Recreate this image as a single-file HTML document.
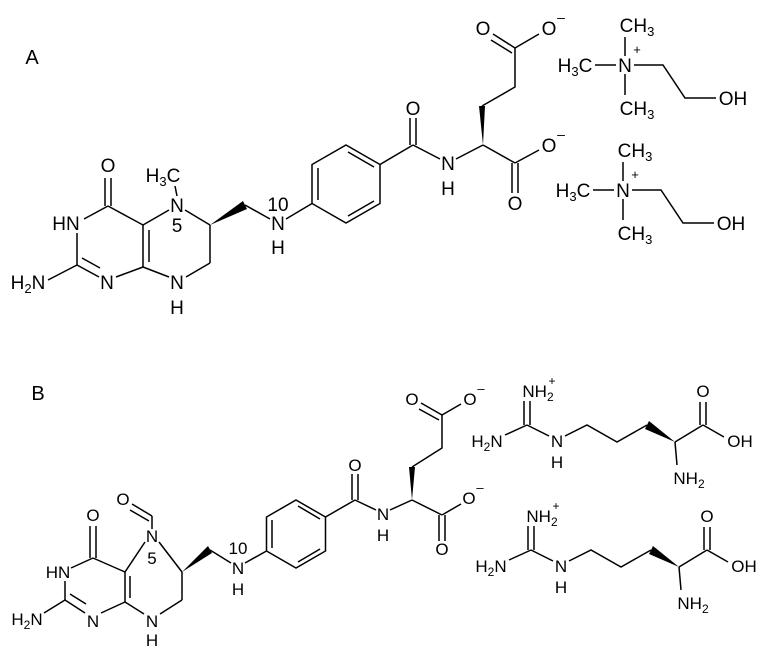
<!DOCTYPE html>
<html><head><meta charset="utf-8"><style>
html,body{margin:0;padding:0;background:#fff;}
svg{display:block;}
text{font-family:"Liberation Sans",Arial,sans-serif;fill:#000;}
.a{font-size:19px;} .b{font-size:17px;}
line,polyline{stroke:#000;stroke-width:1.5;fill:none;}
</style></head><body>
<svg width="770" height="651" viewBox="0 0 770 651" xmlns="http://www.w3.org/2000/svg">
<text x="32" y="64" font-size="20" text-anchor="middle">A</text>
<text x="38" y="400" font-size="20" text-anchor="middle">B</text>

<!-- ===== A: folate ===== -->
<g class="a" text-anchor="middle">
<text x="108" y="172">O</text>
<text x="66" y="230">HN</text>
<text x="107" y="289">N</text>
<text x="28" y="289">H<tspan font-size="13" dy="4">2</tspan><tspan dy="-4">N</tspan></text>
<text x="177" y="212">N</text>
<text x="177" y="232">5</text>
<text x="163" y="182">H<tspan font-size="13" dy="4">3</tspan><tspan dy="-4">C</tspan></text>
<text x="177" y="289">N</text>
<text x="177" y="314">H</text>
<text x="278" y="230">N</text>
<text x="278" y="211">10</text>
<text x="278" y="254">H</text>
<text x="413" y="115">O</text>
<text x="448" y="170">N</text>
<text x="448" y="195">H</text>
<text x="483" y="35">O</text>
<text x="549" y="35">O</text>
<text x="561" y="22" font-size="14">–</text>
<text x="515" y="210">O</text>
<text x="549" y="152">O</text>
<text x="561" y="139" font-size="14">–</text>
</g>
<line x1="105" y1="178" x2="105" y2="206"/><line x1="111" y1="178" x2="111" y2="206"/>
<line x1="108" y1="206" x2="84" y2="219"/>
<line x1="77" y1="233" x2="77" y2="265"/>
<line x1="77" y1="265" x2="99" y2="277"/><line x1="82" y1="258" x2="100" y2="268"/>
<line x1="116" y1="277" x2="143" y2="267"/>
<line x1="143" y1="267" x2="143" y2="225"/><line x1="149" y1="262" x2="149" y2="230"/>
<line x1="143" y1="225" x2="108" y2="206"/>
<line x1="77" y1="265" x2="48" y2="280"/>
<line x1="143" y1="225" x2="169" y2="210"/>
<line x1="177" y1="196" x2="175" y2="186"/>
<line x1="185" y1="210" x2="210" y2="225"/>
<line x1="210" y1="225" x2="210" y2="263"/>
<line x1="210" y1="263" x2="186" y2="277"/>
<line x1="169" y1="277" x2="143" y2="267"/>
<polygon points="210,225 243,201 247,209" fill="#000"/>
<line x1="245" y1="205" x2="270" y2="219"/>
<line x1="286" y1="219" x2="312" y2="203.5"/>
<polygon points="346,145 380,164.5 380,203.5 346,223 312,203.5 312,164.5" fill="none" stroke="#000" stroke-width="1.5"/>
<line x1="318" y1="168" x2="318" y2="200"/>
<line x1="348" y1="152" x2="374" y2="167"/>
<line x1="348" y1="216" x2="374" y2="201"/>
<line x1="380" y1="164.5" x2="413" y2="145"/>
<line x1="410" y1="145" x2="410" y2="118"/><line x1="416" y1="145" x2="416" y2="118"/>
<line x1="413" y1="145" x2="440" y2="159"/>
<line x1="456" y1="159" x2="483" y2="145"/>
<polygon points="483,145 479,106 485,106" fill="#000"/>
<polyline points="482,106 515,87 515,48"/>
<line x1="515" y1="48" x2="493" y2="34"/><line x1="512" y1="53" x2="491" y2="40"/>
<line x1="515" y1="48" x2="539" y2="34"/>
<line x1="483" y1="145" x2="515" y2="163"/>
<line x1="512" y1="163" x2="512" y2="193"/><line x1="518" y1="163" x2="518" y2="193"/>
<line x1="515" y1="163" x2="539" y2="150"/>

<!-- cholines -->
<g id="ch">
<text class="a" x="575" y="72" text-anchor="middle">H<tspan font-size="13" dy="4">3</tspan><tspan dy="-4">C</tspan></text>
<text class="a" x="625" y="72" text-anchor="middle">N</text>
<text x="637" y="54" font-size="13" text-anchor="middle">+</text>
<text class="a" x="637" y="32" text-anchor="middle">CH<tspan font-size="13" dy="4">3</tspan></text>
<text class="a" x="637" y="115" text-anchor="middle">CH<tspan font-size="13" dy="4">3</tspan></text>
<text class="a" x="733" y="105" text-anchor="middle">OH</text>
<line x1="595" y1="65" x2="616" y2="65"/>
<line x1="625" y1="56" x2="625" y2="37"/>
<line x1="625" y1="74" x2="625" y2="95"/>
<polyline points="634,65 663,65 685,98 716,98"/>
</g>
<use href="#ch" x="-2" y="125"/>

<!-- ===== B: folinate ===== -->
<g class="b" text-anchor="middle">
<text x="93" y="521">O</text>
<text x="58" y="578">HN</text>
<text x="93" y="627">N</text>
<text x="27" y="625">H<tspan font-size="12" dy="4">2</tspan><tspan dy="-4">N</tspan></text>
<text x="152" y="542">N</text>
<text x="152" y="564">5</text>
<text x="123" y="505">O</text>
<text x="152" y="627">N</text>
<text x="152" y="646">H</text>
<text x="238" y="574">N</text>
<text x="238" y="554">10</text>
<text x="238" y="595">H</text>
<text x="355" y="471">O</text>
<text x="383" y="520">N</text>
<text x="383" y="541">H</text>
<text x="412" y="405">O</text>
<text x="470" y="405">O</text>
<text x="481" y="393" font-size="13">–</text>
<text x="442" y="555">O</text>
<text x="469" y="504">O</text>
<text x="480" y="492" font-size="13">–</text>
</g>
<line x1="90" y1="526" x2="90" y2="558"/><line x1="96" y1="526" x2="96" y2="558"/>
<line x1="93" y1="558" x2="71" y2="568"/>
<line x1="65" y1="581" x2="65" y2="600"/>
<line x1="65" y1="600" x2="85" y2="613"/><line x1="70" y1="594" x2="86" y2="604"/>
<line x1="101" y1="613" x2="125" y2="602"/>
<line x1="125" y1="602" x2="125" y2="572"/><line x1="130" y1="598" x2="130" y2="576"/>
<line x1="125" y1="572" x2="93" y2="558"/>
<line x1="65" y1="600" x2="44" y2="613"/>
<line x1="125" y1="572" x2="145" y2="542"/>
<line x1="152" y1="529" x2="152" y2="516"/>
<line x1="152" y1="516" x2="132" y2="504"/><line x1="149" y1="521" x2="130" y2="510"/>
<line x1="159" y1="542" x2="182" y2="572"/>
<line x1="182" y1="572" x2="182" y2="600"/>
<line x1="182" y1="600" x2="160" y2="614"/>
<line x1="144" y1="614" x2="125" y2="602"/>
<polygon points="182,572 208,546 212,553" fill="#000"/>
<line x1="210" y1="550" x2="231" y2="563"/>
<line x1="245" y1="563" x2="266.5" y2="551"/>
<polygon points="296,500 325.5,517 325.5,551 296,568 266.5,551 266.5,517" fill="none" stroke="#000" stroke-width="1.5"/>
<line x1="272" y1="520" x2="272" y2="548"/>
<line x1="298" y1="506" x2="320" y2="519"/>
<line x1="298" y1="562" x2="320" y2="549"/>
<line x1="325.5" y1="517" x2="355" y2="500"/>
<line x1="352" y1="500" x2="352" y2="474"/><line x1="358" y1="500" x2="358" y2="474"/>
<line x1="355" y1="500" x2="376" y2="510"/>
<line x1="390" y1="510" x2="412" y2="500"/>
<polygon points="412,500 409,467 415,467" fill="#000"/>
<polyline points="412,467 442,448 442,415"/>
<line x1="442" y1="415" x2="421" y2="403"/><line x1="439" y1="420" x2="419" y2="409"/>
<line x1="442" y1="415" x2="461" y2="404"/>
<line x1="412" y1="500" x2="442" y2="515"/>
<line x1="439" y1="515" x2="439" y2="541"/><line x1="445" y1="515" x2="445" y2="541"/>
<line x1="442" y1="515" x2="461" y2="504"/>

<!-- arginines -->
<g id="ar">
<text class="b" x="487" y="447" text-anchor="middle">H<tspan font-size="12" dy="4">2</tspan><tspan dy="-4">N</tspan></text>
<text class="b" x="538" y="397" text-anchor="middle">NH<tspan font-size="12" dy="4">2</tspan></text>
<text x="552" y="385" font-size="12" text-anchor="middle">+</text>
<text class="b" x="557" y="447" text-anchor="middle">N</text>
<text class="b" x="557" y="468" text-anchor="middle">H</text>
<text class="b" x="703" y="397" text-anchor="middle">O</text>
<text class="b" x="740" y="447" text-anchor="middle">OH</text>
<text class="b" x="689" y="484" text-anchor="middle">NH<tspan font-size="12" dy="4">2</tspan></text>
<line x1="505" y1="435" x2="527" y2="425"/>
<line x1="524" y1="425" x2="524" y2="401"/><line x1="530" y1="425" x2="530" y2="401"/>
<line x1="527" y1="425" x2="549" y2="436"/>
<polyline points="565,436 587,425 617,442 647,425"/>
<polygon points="675,442 645,429 649,421" fill="#000"/>
<line x1="675" y1="442" x2="703" y2="425"/>
<line x1="700" y1="425" x2="700" y2="402"/><line x1="706" y1="425" x2="706" y2="402"/>
<line x1="703" y1="425" x2="724" y2="437"/>
<line x1="675" y1="442" x2="677" y2="465"/>
</g>
<use href="#ar" x="4" y="125"/>
</svg>
</body></html>
